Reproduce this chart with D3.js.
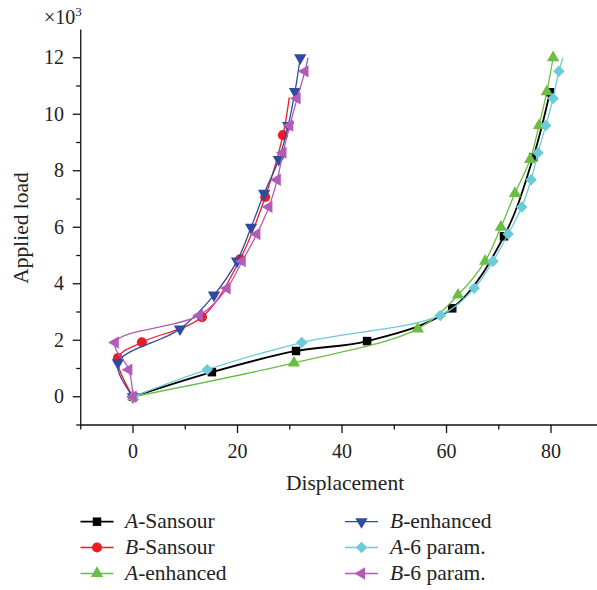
<!DOCTYPE html>
<html><head><meta charset="utf-8">
<script src="https://cdn.jsdelivr.net/npm/d3@7"></script>
<style>
html,body{margin:0;padding:0;background:#fff;}
svg text{font-family:"Liberation Serif","DejaVu Serif",serif;fill:#222;}
</style></head>
<body><svg id="c" width="597" height="590"></svg>
<script>
// ---- data ----
const seriesNames = ["A-Sansour","B-Sansour","A-enhanced","B-enhanced","A-6 param.","B-6 param."];
const aSansourX = [0,15.1,31.2,44.8,61.1,71.0,76.6,79.8];
const aSansourY = [0,0.87,1.62,1.97,3.13,5.68,8.48,10.78];
const bSansourX = [0,-2.9,1.7,13.2,20.5,25.3,28.7,29.9];
const bSansourY = [0,1.37,1.93,2.82,4.87,7.07,9.26,10.6];
const aEnhancedX = [0,30.8,54.5,62.2,67.4,70.4,73.1,76.0,77.7,79.2,80.4];
const aEnhancedY = [0,1.2,2.4,3.6,4.8,6.0,7.2,8.4,9.6,10.8,12.0];
const bEnhancedX = [0,-2.9,9.0,15.5,19.9,22.6,25.1,27.9,29.7,31.0,32.0];
const bEnhancedY = [0,1.2,2.4,3.6,4.8,6.0,7.2,8.4,9.6,10.8,12.0];
const a6X = [0,14.2,32.3,58.8,65.3,68.9,71.8,74.4,76.2,77.5,79.0,80.4,81.5,82.3];
const a6Y = [0,0.96,1.92,2.88,3.84,4.8,5.76,6.72,7.68,8.64,9.6,10.56,11.52,12.0];
const b6X = [0,-0.8,-3.4,12.7,18.0,20.9,23.7,26.0,27.6,28.7,30.0,31.4,32.9,33.5];
const b6Y = [0,0.96,1.92,2.88,3.84,4.8,5.76,6.72,7.68,8.64,9.6,10.56,11.52,12.0];
// last point is a line end without a marker
const unmarkedTail = [false,true,false,false,true,true];
const xTicks = [-10,0,10,20,30,40,50,60,70,80];
const yTicks = [-1,0,1,2,3,4,5,6,7,8,9,10,11,12];

// ---- styles ----
const colors = ["#000000","#ec1c24","#6cbd45","#2e4b9f","#6ccbd9","#b35cb7"];
const shapes = ["square","circle","up","down","diamond","left"];
const xs = [aSansourX,bSansourX,aEnhancedX,bEnhancedX,a6X,b6X];
const ys = [aSansourY,bSansourY,aEnhancedY,bEnhancedY,a6Y,b6Y];

const svg = d3.select("#c");
const x = d3.scaleLinear().domain([-10, 88.8]).range([80.75, 597]);
const y = d3.scaleLinear().domain([-1, 13]).range([425, 29.5]);

function marker(sel, shape, color){
  let sym, rot = 0, size;
  if(shape==="square"){sym=d3.symbolSquare; size=72;}
  else if(shape==="circle"){sym=d3.symbolCircle; size=80;}
  else if(shape==="diamond"){sym=d3.symbolSquare; size=66; rot=45;}
  else {sym=d3.symbolTriangle; size=66; rot = shape==="up"?0:(shape==="down"?180:-90);}
  sel.append("path").attr("d", d3.symbol().type(sym).size(size)())
    .attr("transform", (sel.attr("data-t")||"") + ` rotate(${rot})`)
    .attr("fill", color);
}

// ---- axes ----
const ax = svg.append("g").attr("stroke","#111").attr("stroke-width",1.3).attr("fill","none");
ax.append("line").attr("x1",x(-10)).attr("x2",597).attr("y1",y(-1)).attr("y2",y(-1));
ax.append("line").attr("x1",x(-10)).attr("x2",x(-10)).attr("y1",y(-1)+0.6).attr("y2",y(13));
xTicks.forEach(t=>{
  const major = t%20===0;
  ax.append("line").attr("x1",x(t)).attr("x2",x(t)).attr("y1",y(-1)).attr("y2",y(-1)+(major?8:4.5));
  if(major) svg.append("text").attr("x",x(t)).attr("y",458).attr("text-anchor","middle")
    .attr("font-size",20).text(t);
});
yTicks.forEach(t=>{
  const major = t%2===0 && t>=0;
  ax.append("line").attr("x1",x(-10)).attr("x2",x(-10)-(major?8:4.5)).attr("y1",y(t)).attr("y2",y(t));
  if(major) svg.append("text").attr("x",64).attr("y",y(t)+6.5).attr("text-anchor","end")
    .attr("font-size",20).text(t);
});
const ex = svg.append("text").attr("x",44).attr("y",24).attr("font-size",20);
ex.append("tspan").text("×10");
ex.append("tspan").attr("font-size",13).attr("dy",-8).text("3");
svg.append("text").attr("transform","translate(28,228) rotate(-90)").attr("text-anchor","middle")
  .attr("font-size",21.5).text("Applied load");
svg.append("text").attr("x",345).attr("y",490).attr("text-anchor","middle")
  .attr("font-size",21.5).text("Displacement");

// ---- series ----
const line = d3.line().x(d=>x(d[0])).y(d=>y(d[1])).curve(d3.curveCatmullRom.alpha(0.5));
seriesNames.forEach((name,i)=>{
  const pts = xs[i].map((v,j)=>[v, ys[i][j]]);
  const g = svg.append("g");
  g.append("path").attr("d", line(pts)).attr("fill","none").attr("stroke",colors[i])
    .attr("stroke-width", i===0?1.8:1.3);
  const mp = unmarkedTail[i] ? pts.slice(0,-1) : pts;
  mp.forEach(p=>{
    const m = g.append("g").attr("data-t",`translate(${x(p[0])},${y(p[1])})`);
    marker(m, shapes[i], colors[i]);
  });
});

// ---- legend ----
const legCols = [{lx:80.5, tx:125}, {lx:345, tx:390}];
const legRows = [521.7, 547.5, 573.5];
seriesNames.forEach((name,i)=>{
  const col = legCols[Math.floor(i/3)], ry = legRows[i%3];
  svg.append("line").attr("x1",col.lx).attr("x2",col.lx+33).attr("y1",ry).attr("y2",ry)
    .attr("stroke",colors[i]).attr("stroke-width", i===0?1.8:1.3);
  const m = svg.append("g").attr("data-t",`translate(${col.lx+16.5},${ry})`);
  marker(m, shapes[i], colors[i]);
  const t = svg.append("text").attr("x",col.tx).attr("y",ry+6.5).attr("font-size",21.5);
  t.append("tspan").attr("font-style","italic").text(name.slice(0,1));
  t.append("tspan").text(name.slice(1));
});
</script></body></html>
